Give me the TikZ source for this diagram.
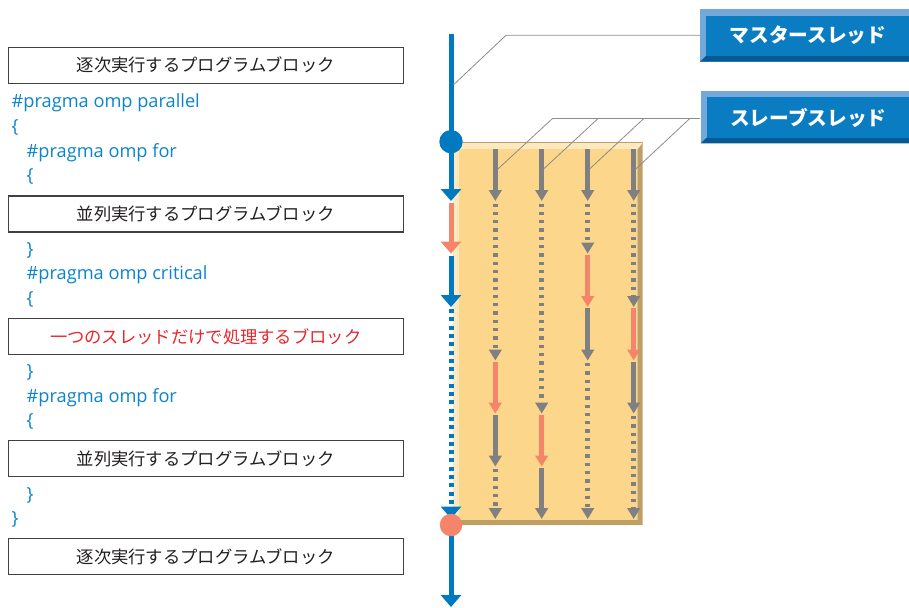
\documentclass[tikz,border=0pt]{standalone}
\usepackage{fontspec}
\setmainfont{Open Sans}
\newfontfamily\jp{Noto Sans CJK JP}
\usetikzlibrary{arrows.meta}
\definecolor{mblue}{HTML}{0079C1}
\definecolor{morange}{HTML}{F4856A}
\definecolor{mgray}{HTML}{808080}
\definecolor{panelc}{HTML}{FCD68B}
\definecolor{panell}{HTML}{FEE8C0}
\definecolor{paneld}{HTML}{BE9F66}
\definecolor{lblmain}{HTML}{0A7DC2}
\definecolor{lbllight}{HTML}{72A9DA}
\definecolor{lbldark}{HTML}{055A92}
\definecolor{codec}{HTML}{0A84CC}
\definecolor{boxtext}{HTML}{231F20}
\definecolor{redtext}{HTML}{E8262C}
\definecolor{connc}{HTML}{8C8C8C}
\tikzset{
  progbox/.style={draw=boxtext!85, line width=1.1pt, fill=white, minimum width=395pt, minimum height=36pt, inner sep=0pt, text=boxtext, font=\jp\fontsize{17.3}{20}\selectfont},
  codeline/.style={anchor=base west, inner sep=0pt, text=codec, font=\fontsize{18.2}{21}\selectfont},
  lblbox/.style={minimum width=209pt, minimum height=52.4pt, inner sep=0pt, text=white, font=\jp\bfseries\fontsize{19.7}{22}\selectfont},
  mseg/.style={line width=5pt, draw=mblue, -{Triangle[width=20pt,length=12pt]}},
  mdot/.style={mseg, dash pattern=on 4pt off 4.3pt},
  moseg/.style={line width=5pt, draw=morange, -{Triangle[width=20pt,length=12pt]}},
  gseg/.style={line width=5pt, draw=mgray, -{Triangle[width=12.5pt,length=11pt]}},
  gdot/.style={gseg, line width=4.5pt, dash pattern=on 3.3pt off 5pt},
  oseg/.style={line width=5pt, draw=morange, -{Triangle[width=12.5pt,length=11pt]}},
  conn/.style={draw=connc, line width=0.8pt},
}
\begin{document}
\begin{tikzpicture}[x=1pt,y=-1pt]
\useasboundingbox (0,0) rectangle (909,607);
% ---------- left program boxes ----------
\node[progbox] (b1) at (205.7,65.3) {逐次実行するプログラムブロック};
\node[progbox] (b2) at (205.7,214) {並列実行するプログラムブロック};
\node[progbox, text=redtext] (b3) at (205.7,336.3) {一つのスレッドだけで処理するブロック};
\node[progbox] (b4) at (205.7,458.3) {並列実行するプログラムブロック};
\node[progbox] (b5) at (205.7,556.8) {逐次実行するプログラムブロック};
% ---------- code lines ----------
\node[codeline] (c0) at (11.5,108) {\#pragma omp parallel};
\node[codeline] (c1) at (11.5,132.5) {\{};
\node[codeline] (c2) at (26.5,157) {\#pragma omp for};
\node[codeline] (c3) at (26.5,181.5) {\{};
\node[codeline] (c4) at (26.5,255) {\}};
\node[codeline] (c5) at (26.5,279.5) {\#pragma omp critical};
\node[codeline] (c6) at (26.5,304) {\{};
\node[codeline] (c7) at (26.5,377.5) {\}};
\node[codeline] (c8) at (26.5,402) {\#pragma omp for};
\node[codeline] (c9) at (26.5,426.5) {\{};
\node[codeline] (c10) at (26.5,500) {\}};
\node[codeline] (c11) at (11.5,524.5) {\}};
% ---------- panel ----------
\fill[paneld] (637.3,149.3) -- (642.7,142.7) -- (642.7,525) -- (458,525) -- (453,520) -- (637.3,520) -- cycle;
\fill[panell] (453,142.7) -- (642.7,142.7) -- (637.3,149.3) -- (459.3,149.3) -- (459.3,520) -- (453,520) -- cycle;
\fill[panelc] (459.3,149.3) rectangle (637.3,520);
\draw[paneld, line width=0.8pt] (453,142.7) -- (642.7,142.7);
% ---------- master thread ----------
\draw[line width=5pt, draw=mblue] (451,34.3) -- (451,141.7);
\draw[mseg] (451,142) -- (451,201);
\draw[moseg] (451,203) -- (451,253.5);
\draw[mseg] (451,255.5) -- (451,307);
\draw[mdot] (451,309) -- (451,518.5);
\draw[mseg] (451,530) -- (451,607);
\node[circle, fill=mblue, minimum size=23.4pt, inner sep=0pt] (fork) at (451,141.7) {};
\node[circle, fill=morange, minimum size=22.5pt, inner sep=0pt] (join) at (451,525) {};
% ---------- slave columns ----------
% column 1
\draw[gseg] (495.3,149.3) -- (495.3,201);
\draw[gdot] (495.3,203.5) -- (495.3,360.5);
\draw[oseg] (495.3,361.5) -- (495.3,413.5);
\draw[gseg] (495.3,414.5) -- (495.3,466.5);
\draw[gdot] (495.3,469) -- (495.3,519);
% column 2
\draw[gseg] (541.7,149.3) -- (541.7,201);
\draw[gdot] (541.7,203.5) -- (541.7,413.5);
\draw[oseg] (541.7,414.5) -- (541.7,466.5);
\draw[gseg] (541.7,467.5) -- (541.7,519);
% column 3
\draw[gseg] (587.7,149.3) -- (587.7,201);
\draw[gdot] (587.7,203.5) -- (587.7,253.5);
\draw[oseg] (587.7,254.5) -- (587.7,307);
\draw[gseg] (587.7,308) -- (587.7,360.5);
\draw[gdot] (587.7,363) -- (587.7,519);
% column 4
\draw[gseg] (633.7,149.3) -- (633.7,201);
\draw[gdot] (633.7,203.5) -- (633.7,307);
\draw[oseg] (633.7,308) -- (633.7,360.5);
\draw[gseg] (633.7,361.5) -- (633.7,413.5);
\draw[gdot] (633.7,416) -- (633.7,519);
% ---------- labels ----------
\fill[lbllight] (700,9.3) rectangle (909,61.7);
\fill[lbldark] (700,61.7) -- (706,56) -- (909,56) -- (909,61.7) -- cycle;
\fill[lblmain] (706,15.7) rectangle (909,56);
\node[lblbox] (master) at (804.5,35.5) {\hspace*{7pt}マスタースレッド};
\fill[lbllight] (700.7,90.7) rectangle (909,143.3);
\fill[lbldark] (700.7,143.3) -- (706.7,137.6) -- (909,137.6) -- (909,143.3) -- cycle;
\fill[lblmain] (706.7,97.1) rectangle (909,137.6);
\node[lblbox] (slave) at (804.8,117.5) {\hspace*{7pt}スレーブスレッド};
% ---------- connectors ----------
\coordinate (mA) at (453.3,85);
\coordinate (mB) at (506,35.3);
\draw[conn] (mA) -- (mB) -- (mB -| master.west);
\coordinate (s1) at (552.7,118.3);
\coordinate (s2) at (598.3,118.3);
\coordinate (s3) at (644,118.3);
\coordinate (s4) at (690,118.3);
\coordinate (t1) at (497.6,169.3);
\coordinate (t2) at (544,168.6);
\coordinate (t3) at (590,168.6);
\coordinate (t4) at (636.2,168.6);
\draw[conn] (s1) -- (s1 -| slave.west);
\draw[conn] (t1) -- (s1);
\draw[conn] (t2) -- (s2);
\draw[conn] (t3) -- (s3);
\draw[conn] (t4) -- (s4);
\end{tikzpicture}
\end{document}
